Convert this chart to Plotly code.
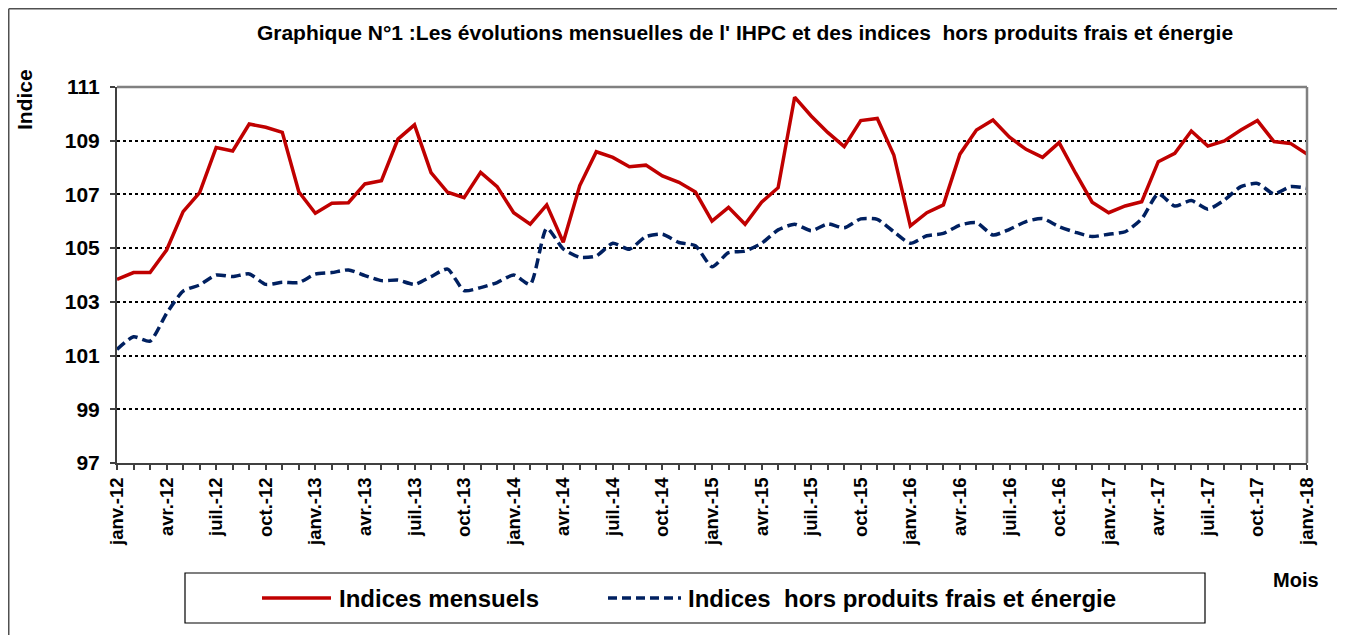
import plotly.graph_objects as go

OFF = 8  # page body margin of the written html
W, H = 1345 - OFF, 635 - OFF
L, R, T, B = 117 - OFF, 38, 87 - OFF, 172
PW, PH = W - L - R, H - T - B

month_abbr = ["janv.", "févr.", "mars", "avr.", "mai", "juin",
              "juil.", "août", "sept.", "oct.", "nov.", "déc."]
years = ["12", "13", "14", "15", "16", "17", "18"]
months = [f"{m}-{y}" for y in years for m in month_abbr][:73]

indices_mensuels = [
    103.84, 104.09, 104.09, 104.93, 106.36, 107.07, 108.75, 108.62, 109.62, 109.50, 109.31, 107.10,
    106.30, 106.67, 106.69, 107.39, 107.51, 109.06, 109.59, 107.81, 107.08, 106.88, 107.82, 107.29,
    106.32, 105.89, 106.61, 105.22, 107.33, 108.59, 108.38, 108.03, 108.09, 107.69, 107.45, 107.09,
    106.01, 106.52, 105.89, 106.71, 107.25, 110.62, 109.92, 109.31, 108.78, 109.75, 109.83, 108.47,
    105.83, 106.32, 106.61, 108.50, 109.40, 109.77, 109.13, 108.68, 108.38, 108.93, 107.79, 106.71,
    106.32, 106.57, 106.73, 108.22, 108.53, 109.36, 108.80, 108.99, 109.40, 109.75, 108.97, 108.90,
    108.50,
]
indices_hors = [
    101.23, 101.70, 101.54, 102.57, 103.40, 103.63, 104.00, 103.94, 104.04, 103.65, 103.73, 103.72,
    104.03, 104.09, 104.19, 103.98, 103.79, 103.81, 103.65, 103.94, 104.22, 103.42, 103.53, 103.72,
    104.00, 103.65, 105.74, 104.97, 104.66, 104.71, 105.18, 104.96, 105.43, 105.52, 105.21, 105.09,
    104.31, 104.83, 104.89, 105.18, 105.68, 105.89, 105.65, 105.90, 105.76, 106.09, 106.07, 105.61,
    105.18, 105.46, 105.55, 105.86, 105.95, 105.49, 105.70, 105.99, 106.10, 105.80, 105.59, 105.43,
    105.52, 105.61, 106.09, 107.02, 106.57, 106.77, 106.45, 106.79, 107.29, 107.41, 107.02, 107.29,
    107.23,
]
y_ticks = [97, 99, 101, 103, 105, 107, 109, 111]

series_names = ["Indices mensuels", "Indices  hors produits frais et énergie"]
RED, BLUE = "#C00000", "#002060"
FONT = "Arial, Liberation Sans, sans-serif"

xi = list(range(len(months)))
ticktext = [m if i % 3 == 0 else "" for i, m in enumerate(months)]


def px_x(page_px):
    return (page_px - OFF - L) / PW


def px_y(page_py):
    return (H - B - (page_py - OFF)) / PH


fig = go.Figure()
fig.add_trace(go.Scatter(x=xi, y=indices_mensuels, mode="lines", name=series_names[0],
                         line=dict(color=RED, width=3.5), showlegend=False))
fig.add_trace(go.Scatter(x=xi, y=indices_hors, mode="lines", name=series_names[1],
                         line=dict(color=BLUE, width=3.5, dash="10px,5px", shape="spline", smoothing=0.6),
                         showlegend=False))

fig.update_layout(
    width=W, height=H,
    margin=dict(l=L, r=R, t=T, b=B),
    paper_bgcolor="white", plot_bgcolor="white",
    font=dict(family=FONT, color="black"),
    title=dict(text="Graphique N°1 :Les évolutions mensuelles de l' IHPC et des indices  hors produits frais et énergie",
               x=px_x(745), xref="paper", xanchor="center", y=1 - (33 - OFF) / H, yanchor="middle",
               yref="container",
               font=dict(size=21, weight="bold", family=FONT, color="black")),
    xaxis=dict(range=[0, len(months) - 1], tickmode="array", tickvals=xi, ticktext=ticktext,
               tickangle=-90, ticks="outside", ticklen=5, tickwidth=1.5, tickcolor="#404040",
               showline=True, linecolor="#404040", linewidth=2, showgrid=False, zeroline=False,
               tickfont=dict(size=18.5, weight="bold", family=FONT, color="black")),
    xaxis2=dict(overlaying="x", anchor="y", side="bottom", range=[0, len(months) - 1],
                tickmode="array", tickvals=xi, ticks="inside", ticklen=5, tickwidth=1.5,
                tickcolor="#404040", showticklabels=False, showline=False, showgrid=False, zeroline=False),
    yaxis=dict(range=[97, 111], tickmode="array", tickvals=y_ticks, ticks="outside", ticklen=5,
               tickwidth=1.5, tickcolor="#404040", showline=True, linecolor="#404040", linewidth=2,
               showgrid=True, gridcolor="black", gridwidth=1.5, griddash="dot", zeroline=False,
               ticklabelstandoff=6,
               tickfont=dict(size=21, weight="bold", family=FONT, color="black")),
)

shapes = [
    # plot border (top & right)
    dict(type="line", xref="paper", yref="paper", x0=0, x1=1, y0=1, y1=1, line=dict(color="#808080", width=2.5)),
    dict(type="line", xref="paper", yref="paper", x0=1, x1=1, y0=0, y1=1, line=dict(color="#808080", width=2.5)),
    # outer chart border (top & left edges of the figure)
    dict(type="line", xref="paper", yref="paper", x0=px_x(OFF + 0.75), x1=px_x(1400), y0=px_y(OFF + 0.75),
         y1=px_y(OFF + 0.75), line=dict(color="#505050", width=1.5)),
    dict(type="line", xref="paper", yref="paper", x0=px_x(OFF + 0.75), x1=px_x(OFF + 0.75), y0=px_y(OFF + 0.75),
         y1=px_y(700), line=dict(color="#505050", width=1.5)),
    # legend box
    dict(type="rect", xref="paper", yref="paper", x0=px_x(185), x1=px_x(1205), y0=px_y(573), y1=px_y(623),
         line=dict(color="black", width=1.2), fillcolor="white"),
    dict(type="line", xref="paper", yref="paper", x0=px_x(262), x1=px_x(331), y0=px_y(598), y1=px_y(598),
         line=dict(color=RED, width=3.5)),
    dict(type="line", xref="paper", yref="paper", x0=px_x(608), x1=px_x(681), y0=px_y(598), y1=px_y(598),
         line=dict(color=BLUE, width=3.5, dash="9px,5px")),
]
fig.update_layout(shapes=shapes)

ann_font = dict(size=24, weight="bold", family=FONT, color="black")
fig.add_annotation(x=px_x(337), y=px_y(598), xref="paper", yref="paper", text=series_names[0],
                   showarrow=False, xanchor="left", yanchor="middle", font=ann_font)
fig.add_annotation(x=px_x(686), y=px_y(598), xref="paper", yref="paper", text=series_names[1],
                   showarrow=False, xanchor="left", yanchor="middle", font=ann_font)
fig.add_annotation(x=px_x(25), y=px_y(100), xref="paper", yref="paper", text="Indice", textangle=-90,
                   showarrow=False, xanchor="center", yanchor="middle",
                   font=dict(size=21, weight="bold", family=FONT, color="black"))
fig.add_annotation(x=px_x(1296), y=px_y(580), xref="paper", yref="paper", text="Mois",
                   showarrow=False, xanchor="center", yanchor="middle",
                   font=dict(size=20, weight="bold", family=FONT, color="black"))

fig.write_html("out.html")
